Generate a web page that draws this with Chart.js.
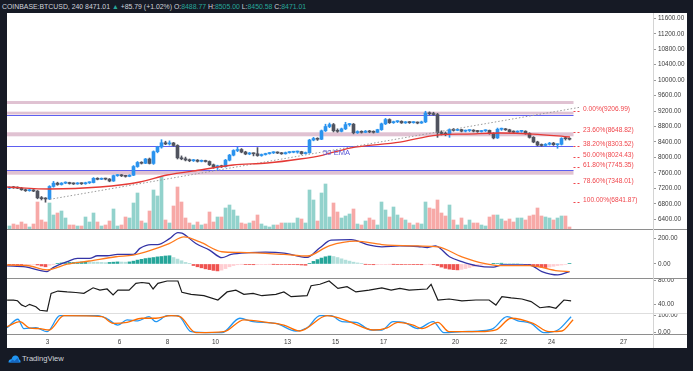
<!DOCTYPE html>
<html>
<head>
<meta charset="utf-8">
<title>COINBASE:BTCUSD 240</title>
<script src="https://cdn.jsdelivr.net/npm/chart.js@4.4.1/dist/chart.umd.min.js"></script>
<style>
  html, body { margin: 0; padding: 0; }
  body { width: 693px; height: 371px; background: #161a25; position: relative; overflow: hidden; font-family: "Liberation Sans", Arial, sans-serif; }
  #frame { position: absolute; left: 7px; top: 13px; width: 680px; height: 335px; background: #fff; }
  canvas { position: absolute; left: 7px; }
  .hline { position: absolute; left: 7px; width: 680px; height: 1px; }
  #vline { position: absolute; left: 653px; top: 13px; width: 1px; height: 335px; background: #d4d4d4; }
  #title { position: absolute; left: 2px; top: 2px; font-size: 6.9px; line-height: 9px; color: #d1d4dc; white-space: nowrap; }
  #title .v { color: #26a69a; }
  #brand { position: absolute; left: 8px; top: 354px; color: #d1d4dc; font-size: 7.6px; line-height: 10px; white-space: nowrap; }
  #brand svg { vertical-align: -2px; margin-right: 1px; }
</style>
</head>
<body>
<div id="frame"></div>
<canvas id="priceChart" width="680" height="216" style="top:13px"></canvas>
<canvas id="macdChart" width="680" height="50" style="top:229px"></canvas>
<canvas id="rsiChart" width="680" height="34" style="top:279px"></canvas>
<canvas id="stochChart" width="680" height="35" style="top:313px"></canvas>
<div class="hline" style="top:229px;background:#8e8e8e"></div>
<div class="hline" style="top:278px;background:#8e8e8e"></div>
<div class="hline" style="top:313px;background:#dedede"></div>
<div class="hline" style="top:334px;background:#8e8e8e"></div>
<div id="vline"></div>
<div id="title">COINBASE:BTCUSD, 240 8471.01 <span class="v">&#9650;</span> +85.79 (+1.02%) O:<span class="v">8488.77</span> H:<span class="v">8505.00</span> L:<span class="v">8450.58</span> C:<span class="v">8471.01</span></div>
<div id="brand"><svg width="13" height="9" viewBox="0 0 13 9"><path d="M0.5 8.5 C0.5 6 2 5 3.5 5.2 C4 2.5 6 1 8 1.5 C10 2 11 3.5 11 5.2 C12.3 5.5 12.8 7 12.5 8.5 Z" fill="#2196f3"/><path d="M1.5 8.5 L4.5 5.5 L6.5 7 L9.5 4 L11.5 8.5 Z" fill="#1565c0"/></svg>TradingView</div>

<script>
// --- 4h candles, Jan 1 - Jan 24 ---
const open = [
  7205,7230,7215,7205,7165,7140,7160,7130,6955,6935,
  6925,7250,7335,7300,7335,7345,7325,7315,7335,7320,
  7345,7350,7460,7435,7455,7440,7390,7530,7545,7525,
  7510,7540,7765,7870,7850,7960,7845,8150,8270,8380,
  8350,8375,8310,7990,7965,7935,7915,7930,7900,7920,
  7895,7810,7750,7785,7760,7930,8060,8180,8205,8140,
  8090,8110,8095,8050,8075,8100,8120,8135,8115,8095,
  8125,8135,8140,8150,8100,8120,8450,8490,8470,8690,
  8800,8850,8690,8675,8740,8850,8860,8640,8670,8650,
  8680,8660,8650,8720,8870,8980,8900,8925,8935,8895,
  8915,8900,8910,8890,8920,9150,9130,9110,8640,8620,
  8600,8720,8700,8720,8680,8695,8705,8680,8670,8690,
  8700,8620,8505,8730,8740,8715,8665,8655,8675,8680,
  8620,8520,8400,8320,8310,8340,8370,8330,8340,8490,
  8488.77
];
const high = [
  7245,7250,7240,7225,7185,7175,7170,7145,6990,6960,
  7270,7380,7360,7350,7370,7360,7345,7350,7345,7360,
  7370,7480,7475,7470,7465,7455,7545,7560,7560,7540,
  7555,7790,7895,7890,7975,7985,8170,8290,8460,8420,
  8430,8390,8330,8040,8010,7960,7950,7945,7935,7930,
  7910,7830,7800,7800,7950,8080,8200,8265,8230,8160,
  8130,8120,8255,8090,8110,8130,8150,8145,8130,8140,
  8150,8160,8165,8160,8140,8470,8520,8510,8710,8860,
  8890,8880,8740,8760,8910,8880,8880,8690,8690,8700,
  8700,8690,8730,8890,9010,9000,8940,8950,8950,8930,
  8930,8930,8920,8940,9195,9180,9170,9140,8690,8660,
  8740,8750,8740,8730,8710,8720,8720,8700,8700,8715,
  8710,8640,8760,8760,8750,8730,8690,8690,8700,8690,
  8640,8540,8420,8350,8360,8390,8390,8350,8510,8520,
  8505
];
const low = [
  7190,7200,7195,7150,7120,7125,7115,6930,6900,6842,
  6910,7230,7280,7285,7320,7310,7300,7305,7300,7305,
  7325,7340,7420,7425,7420,7370,7380,7510,7505,7490,
  7500,7530,7745,7830,7840,7830,7820,8120,8240,8330,
  8320,8290,7960,7940,7910,7890,7895,7880,7885,7880,
  7790,7720,7690,7740,7750,7910,8040,8150,8120,8070,
  8070,8040,8030,8030,8060,8085,8100,8100,8080,8085,
  8110,8120,8110,8080,8090,8110,8430,8440,8460,8670,
  8770,8660,8650,8660,8720,8810,8610,8620,8630,8640,
  8640,8630,8640,8700,8850,8880,8880,8900,8880,8880,
  8880,8885,8870,8880,8900,9100,9090,8520,8580,8560,
  8520,8680,8690,8660,8660,8670,8660,8650,8655,8670,
  8600,8480,8490,8700,8700,8650,8640,8640,8650,8600,
  8500,8380,8300,8290,8290,8320,8310,8237,8320,8450,
  8450.58
];
const close = [
  7230,7215,7205,7165,7140,7160,7130,6955,6935,6925,
  7250,7335,7300,7335,7345,7325,7315,7335,7320,7345,
  7350,7460,7435,7455,7440,7390,7530,7545,7525,7510,
  7540,7765,7870,7850,7960,7845,8150,8270,8380,8350,
  8375,8310,7990,7965,7935,7915,7930,7900,7920,7895,
  7810,7750,7785,7760,7930,8060,8180,8205,8140,8090,
  8110,8095,8050,8075,8100,8120,8135,8115,8095,8125,
  8135,8140,8150,8100,8120,8450,8490,8470,8690,8800,
  8850,8690,8675,8740,8850,8860,8640,8670,8650,8680,
  8660,8650,8720,8870,8980,8900,8925,8935,8895,8915,
  8900,8910,8890,8920,9150,9130,9110,8640,8620,8600,
  8720,8700,8720,8680,8695,8705,8680,8670,8690,8700,
  8620,8505,8730,8740,8715,8665,8655,8675,8680,8620,
  8520,8400,8320,8310,8340,8370,8330,8340,8490,8486,
  8471.01
];
const volume = [
  3,5,4,7,5,2,5,27,9,7,
  26,14,16,18,11,4,4,3,3,12,
  7,16,7,3,4,8,20,3,4,12,
  11,26,36,8,6,18,39,33,52,9,
  6,23,42,27,11,6,4,7,4,5,
  17,7,12,12,21,24,19,13,6,5,
  6,8,14,5,3,2,4,4,6,6,
  6,6,11,10,6,39,29,8,36,45,
  12,26,17,11,13,15,20,5,4,8,
  11,9,4,27,19,12,22,14,11,9,
  6,4,6,5,27,21,20,29,16,13,
  24,9,4,11,4,9,6,6,4,3,
  12,14,14,10,8,10,7,11,11,9,
  13,14,21,13,12,11,9,11,13,13,
  2
];

// 50 EMA and the dotted trend line (candle index, price)
const emaIdx = [-0.6, 10.1, 22.6, 32.6, 39.4, 47.6, 55.9, 64.4, 72.6, 78.4, 85.1, 97.6, 106.9, 114.4, 122.6, 130.9, 140.1];
const emaVal = [7236, 7184, 7236, 7365, 7546, 7675, 7805, 7856, 7960, 8063, 8244, 8399, 8580, 8606, 8632, 8606, 8529];
const trendIdx = [10.1, 142.6];
const trendVal = [6917, 9298];

// levels drawn on the price pane
const pinkBands = [[9383, 9460], [9111, 9184], [8547, 8651], [7554, 7657]];
const blueLevels = [9111, 8300, 7675];
const fibPct = [0, 23.6, 38.2, 50, 61.8, 78.6, 100];
const fibPrice = [9206.99, 8648.82, 8303.52, 8024.43, 7745.35, 7348.01, 6841.87];

// MACD
const macdIdx = [-0.6, 4, 9.4, 10.9, 14.4, 17, 20, 22, 24.4, 27, 31, 32.6, 35.4, 37, 40, 42.1, 43.1, 46.6, 50, 53.1, 55.4, 60, 64, 68.6, 74.4, 77.6, 80.4, 85.4, 90, 93.1, 97.6, 102.1, 104.5, 106.5, 110, 113.1, 116.6, 121, 123, 130, 133.1, 137.1, 140];
const macdVal = [-15, -23, -59, -28, 18, 43, 43, 64, 64, 74, 74, 121, 151, 151, 197, 244, 240, 159, 108, 49, 74, 88, 92, 85, 51, 126, 185, 190, 146, 133, 140, 136, 128, 140, 56, 18, -13, -25, -8, -8, -59, -85, -59];
const signalIdx = [-0.6, 4.4, 9.4, 14.4, 19.9, 26.6, 30.9, 35.4, 39.9, 43.6, 47.6, 53.1, 57.6, 68.6, 74.4, 79.9, 86.6, 93.1, 102.1, 107.1, 113.1, 118.6, 123, 130, 137.1, 140];
const signalVal = [-8, -12, -46, -2, 23, 56, 69, 108, 159, 210, 171, 95, 90, 74, 62, 141, 177, 151, 140, 133, 56, 5, -13, -13, -54, -59];
const macdHist = [
  -5,-8,-10,-12,-10,-6,-4,-8,-16,-22,
  -10,-2,5,8,10,12,12,14,16,17,16,
  15,14,12,10,12,14,16,15,14,16,
  22,30,36,42,46,50,55,58,62,64,
  50,38,25,12,2,
  -12,-22,-30,-38,-44,-50,-54,-48,
  -36,-22,-12,-6,-2,
  -3,-5,-6,-5,-4,-3,-2,-2,-3,-4,-4,-5,-5,-6,-8,-10,
  5,20,34,46,56,62,58,50,
  40,30,22,14,8,3,
  -2,-4,-6,-5,-4,-3,-2,-2,-3,-3,-4,-4,-5,-5,-6,-4,-2,
  -6,-12,-24,-34,-40,-44,-46,-42,-36,-28,-20,-14,-8,
  -4,-2,2,4,6,5,3,2,1,0,
  -4,-10,-16,-22,-26,-28,-24,-18,-12,-8,-4,
  3
];

// RSI
const rsiIdx = [-0.6, 1, 2, 3, 4, 5, 6.6, 7.6, 9.4, 10.4, 12.1, 14.4, 16.6, 18.6, 20.9, 22.6, 24.4, 25.9, 27.1, 29.9, 31.6, 33.1, 34.9, 35.9, 37.1, 39.4, 42.1, 43.1, 45.4, 48.6, 52.1, 54.4, 56.6, 58.6, 60.9, 63.1, 66.6, 68.6, 70.4, 74.4, 75.4, 77.6, 79.9, 82.1, 84.4, 86.6, 89.9, 93.1, 95.4, 97.6, 99.9, 104.4, 105.4, 107.1, 109.9, 113.1, 116.6, 119.9, 121.6, 123.1, 125.4, 128.1, 130.4, 132.6, 134.9, 136.6, 138.6, 140.4];
const rsiVal = [47, 47, 46, 39, 36, 40, 36, 30, 28.6, 58.6, 62.5, 61, 60, 58.6, 68, 64, 66, 55.8, 64, 64, 75.6, 77, 75.6, 66, 75.6, 79.5, 79.5, 60.3, 57, 54.6, 47.3, 61, 64, 57, 58.6, 54.6, 57, 61, 53, 54.6, 71.5, 74, 79.5, 67, 70, 61, 64, 68, 64, 67, 64, 66, 74, 47.3, 49, 46, 47.3, 47.3, 38.8, 53, 50.8, 49, 44.6, 34.2, 36, 33.4, 47.3, 46];

// Stochastic %K / %D
const stochKIdx = [-0.6, 2.1, 3.6, 6.6, 9.4, 12.6, 22.1, 24.4, 27.1, 29.4, 32.1, 34.9, 36.6, 39.4, 42.1, 45.4, 50.9, 53.1, 57.6, 60.9, 66.6, 71.6, 74.4, 77.6, 80.4, 83.1, 86.6, 90.4, 93.1, 95.9, 98.6, 102.1, 105.9, 108.6, 113.1, 117.6, 120.9, 124.4, 127.1, 130.4, 133.6, 137.1, 140.4];
const stochKVal = [29, 79, 24, 29, 6, 100, 100, 82, 45, 76, 70, 94, 65, 100, 100, 6, 0, 0, 85, 65, 55, 10, 29, 100, 100, 65, 61, 16, 16, 65, 61, 24, 65, 0, 6, 10, 24, 94, 70, 55, 0, 16, 94];
const stochDIdx = [-0.6, 2.6, 4.9, 7.6, 9.9, 13.6, 23.1, 25.9, 29.4, 33.1, 36.6, 40.4, 42.6, 46.6, 53.6, 58.6, 64.4, 68.6, 72.6, 79.4, 82.1, 85.4, 90.9, 94.4, 97.1, 100.9, 103.1, 107.1, 109.9, 117.6, 121.6, 125.4, 130.9, 134.9, 138.1, 140.9];
const stochDVal = [35, 65, 29, 24, 16, 100, 94, 55, 61, 85, 85, 100, 94, 0, 6, 76, 61, 45, 10, 100, 88, 61, 16, 29, 61, 45, 24, 61, 6, 6, 16, 85, 55, 6, 10, 76];

// axis ticks
const priceTicks = [6400, 6800, 7200, 7600, 8000, 8400, 8800, 9200, 9600, 10000, 10400, 10800, 11200, 11600];
const macdTicks = [0, 200];
const rsiTicks = [40, 80];
const stochTicks = [0, 100];
const dayTicks = [3, 6, 8, 10, 13, 15, 17, 20, 22, 24, 27];

// --- helpers ---
const X_MIN = -0.625, X_MAX = 160.875;
const dayToIdx = d => (d - 3) * 6 + 9.5;
const pts = (xs, ys) => xs.map((x, i) => ({ x, y: ys[i] }));
const UP = '#2a93ee', DOWN = '#50535e';
const isUp = i => close[i] >= open[i];
const AXIS_TXT = '#3a3a3a';

Chart.defaults.font.family = '"Liberation Sans", Arial, sans-serif';

function xScale(show) {
  return {
    type: 'linear', min: X_MIN, max: X_MAX, offset: false, display: show,
    grid: { display: false, drawTicks: false },
    border: { display: false },
    ticks: { autoSkip: false, maxRotation: 0, padding: 4, color: AXIS_TXT, font: { size: 6.4 },
      callback: (v, i) => dayTicks[i] },
    afterBuildTicks: s => { s.ticks = dayTicks.map(d => ({ value: dayToIdx(d) })); },
    afterFit: s => { s.height = show ? 13.7 : 0; s.paddingLeft = 0; s.paddingRight = 0; }
  };
}

function yScale(min, max, ticks) {
  return {
    position: 'right', min, max,
    grid: { drawOnChartArea: false, drawTicks: true, tickLength: 3, color: '#9a9a9a' },
    border: { display: false },
    ticks: { padding: 2, color: AXIS_TXT, font: { size: 6.4 }, callback: v => v.toFixed(2) },
    afterBuildTicks: s => { s.ticks = ticks.map(v => ({ value: v })); },
    afterFit: s => { s.width = 34; s.paddingTop = 0; s.paddingBottom = 0; }
  };
}

function baseOptions(scales) {
  return {
    responsive: false, animation: false, devicePixelRatio: 1, events: [],
    layout: { padding: 0 },
    plugins: { legend: { display: false }, tooltip: { enabled: false } },
    scales
  };
}

// --- price pane decorations: bands, levels, fib labels ---
const priceDecor = {
  id: 'priceDecor',
  beforeDatasetsDraw(chart) {
    const { ctx, chartArea: a, scales: { x, y } } = chart;
    const xEnd = x.getPixelForValue(141);
    ctx.save();
    ctx.fillStyle = 'rgba(190,128,160,0.48)';
    pinkBands.forEach(([lo, hi]) => {
      const y1 = y.getPixelForValue(hi), y2 = y.getPixelForValue(lo);
      ctx.fillRect(a.left, y1, xEnd - a.left, y2 - y1);
    });
    ctx.strokeStyle = '#5d5ff0';
    ctx.lineWidth = 1.2;
    blueLevels.forEach(p => {
      const yy = Math.round(y.getPixelForValue(p)) + 0.5;
      ctx.beginPath(); ctx.moveTo(a.left, yy); ctx.lineTo(xEnd, yy); ctx.stroke();
    });
    ctx.restore();
  },
  afterDatasetsDraw(chart) {
    const { ctx, scales: { x, y } } = chart;
    ctx.save();
    ctx.strokeStyle = '#f0464c';
    ctx.fillStyle = '#f0464c';
    ctx.lineWidth = 1;
    ctx.setLineDash([2, 2]);
    ctx.font = '6.6px "Liberation Sans", Arial, sans-serif';
    ctx.textBaseline = 'alphabetic';
    const x0 = x.getPixelForValue(141), x1 = x.getPixelForValue(142.7), xl = x.getPixelForValue(143.4);
    fibPrice.forEach((p, i) => {
      const yy = Math.round(y.getPixelForValue(p)) + 0.5;
      ctx.beginPath(); ctx.moveTo(x0, yy); ctx.lineTo(x1, yy); ctx.stroke();
      ctx.fillText(fibPct[i].toFixed(2) + '%(' + p.toFixed(2) + ')', xl, yy - 1);
    });
    ctx.setLineDash([]);
    ctx.fillStyle = '#5a58d6';
    ctx.font = '7.6px "Liberation Sans", Arial, sans-serif';
    ctx.textBaseline = 'middle';
    ctx.fillText('50 EMA', x.getPixelForValue(78.4), y.getPixelForValue(8115));
    ctx.restore();
  }
};

// --- Price + volume ---
new Chart(document.getElementById('priceChart'), {
  type: 'bar',
  data: {
    datasets: [
      { type: 'line', data: pts(emaIdx, emaVal), borderColor: '#e53935', borderWidth: 1.3,
        pointRadius: 0, cubicInterpolationMode: 'monotone', order: 0 },
      { type: 'line', data: pts(trendIdx, trendVal), borderColor: '#9a9a9a', borderWidth: 1,
        borderDash: [1.5, 2], pointRadius: 0, order: 0 },
      { data: open.map((o, i) => ({ x: i, y: [o, close[i]] })), barThickness: 3, minBarLength: 1,
        grouped: false, backgroundColor: open.map((_, i) => isUp(i) ? UP : DOWN), order: 1 },
      { data: open.map((_, i) => ({ x: i, y: [low[i], high[i]] })), barThickness: 1,
        grouped: false, backgroundColor: open.map((_, i) => isUp(i) ? UP : DOWN), order: 2 },
      { data: volume.map((v, i) => ({ x: i, y: v })), yAxisID: 'yv', barThickness: 3, grouped: false,
        backgroundColor: volume.map((_, i) => isUp(i) ? 'rgba(38,166,154,0.5)' : 'rgba(239,83,80,0.5)'), order: 5 }
    ]
  },
  options: baseOptions({
    x: xScale(false),
    y: yScale(6149, 11737, priceTicks),
    yv: { display: false, min: 0, max: 216 }
  }),
  plugins: [priceDecor]
});

// --- MACD ---
new Chart(document.getElementById('macdChart'), {
  type: 'bar',
  data: {
    datasets: [
      { type: 'line', data: pts(signalIdx, signalVal), borderColor: '#ff7a1c', borderWidth: 1.3,
        pointRadius: 0, cubicInterpolationMode: 'monotone', order: 0 },
      { type: 'line', data: pts(macdIdx, macdVal), borderColor: '#3434a6', borderWidth: 1.3,
        pointRadius: 0, cubicInterpolationMode: 'monotone', order: 1 },
      { data: macdHist.map((v, i) => ({ x: i, y: v })), barThickness: 3, grouped: false, order: 2,
        backgroundColor: macdHist.map((v, i) => {
          const prev = i ? macdHist[i - 1] : 0;
          if (v >= 0) return v >= prev ? '#26a69a' : '#b2dfdb';
          return v <= prev ? '#ef5350' : '#ffcdd2';
        }) }
    ]
  },
  options: baseOptions({ x: xScale(false), y: yScale(-117, 272, macdTicks) })
});

// --- RSI ---
new Chart(document.getElementById('rsiChart'), {
  type: 'line',
  data: { datasets: [
    { data: pts(rsiIdx, rsiVal), borderColor: '#1b1b1b', borderWidth: 1.2, pointRadius: 0, tension: 0 }
  ] },
  options: baseOptions({ x: xScale(false), y: yScale(25.3, 82.9, rsiTicks) })
});

// --- Stochastic ---
new Chart(document.getElementById('stochChart'), {
  type: 'line',
  data: { datasets: [
    { data: pts(stochDIdx, stochDVal), borderColor: '#ff6d00', borderWidth: 1.3, pointRadius: 0,
      cubicInterpolationMode: 'monotone' },
    { data: pts(stochKIdx, stochKVal), borderColor: '#2196f3', borderWidth: 1.3, pointRadius: 0,
      cubicInterpolationMode: 'monotone' }
  ] },
  options: baseOptions({ x: xScale(true), y: yScale(-9.4, 115.9, stochTicks) })
});
</script>
</body>
</html>
